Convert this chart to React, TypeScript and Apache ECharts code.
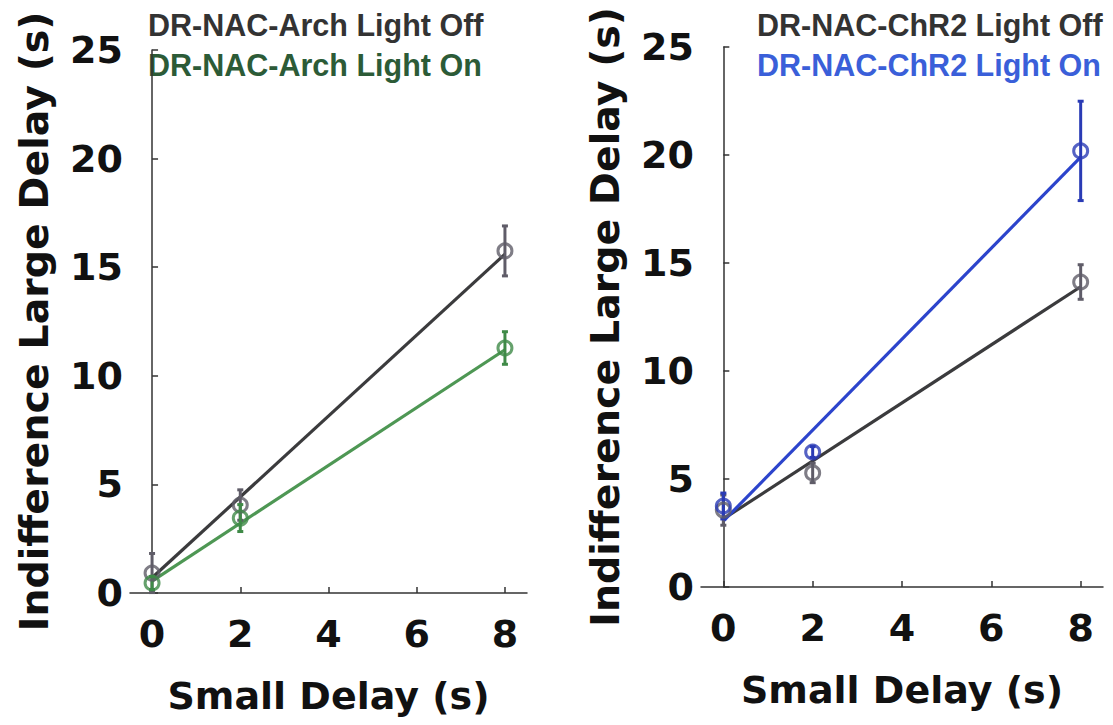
import React, { useEffect, useRef } from "react";
import * as echarts from "echarts";

// ---- Data ----
const smallDelays = [0, 2, 8];
const xTicks = [0, 2, 4, 6, 8];

// Left panel: DR-NAC-Arch
const archOffMean = [0.92, 4.05, 15.75];
const archOffErr = [0.9, 0.7, 1.15];
const archOnMean = [0.46, 3.45, 11.28];
const archOnErr = [0.3, 0.62, 0.75];

// Right panel: DR-NAC-ChR2
const chr2OffMean = [3.56, 5.28, 14.12];
const chr2OffErr = [0.7, 0.45, 0.8];
const chr2OnMean = [3.75, 6.25, 20.19];
const chr2OnErr = [0.6, 0.25, 2.3];

// Fitted lines (end points)
const fitX = [0, 8];
const archOffFit = [0.7, 15.6];
const archOnFit = [0.55, 11.2];
const chr2OffFit = [3.15, 13.9];
const chr2OnFit = [3.05, 19.9];

const legendLeft = ["DR-NAC-Arch Light Off", "DR-NAC-Arch Light On"];
const legendRight = ["DR-NAC-ChR2 Light Off", "DR-NAC-ChR2 Light On"];

const xName = "Small Delay (s)";
const yName = "Indifference Large Delay (s)";

const C = {
  greyMarker: "#5f5c68",
  greyLine: "#3b3b3d",
  greenMarker: "#3f8a47",
  greenLine: "#4e9754",
  blueMarker: "#2a3bb5",
  blueLine: "#2c44cc",
  legendOff: "#333333",
  legendGreen: "#2c5b37",
  legendBlue: "#3a5fd9",
  axis: "#333333",
  text: "#111111",
};

const FONT = "DejaVu Sans";

function pts(xs: number[], ys: number[]) {
  return xs.map((x, i) => [x, ys[i]]);
}
function errs(xs: number[], m: number[], e: number[]) {
  return xs.map((x, i) => [x, m[i] - e[i], m[i] + e[i]]);
}

function errorSeries(data: number[][], color: string, axis: number) {
  return {
    type: "custom",
    xAxisIndex: axis,
    yAxisIndex: axis,
    data,
    encode: { x: 0, y: [1, 2] },
    z: 3,
    renderItem: (params: any, api: any) => {
      const x = api.value(0);
      const lo = api.coord([x, api.value(1)]);
      const hi = api.coord([x, api.value(2)]);
      const w = 3;
      const style = { stroke: color, lineWidth: 3 };
      return {
        type: "group",
        children: [
          { type: "line", shape: { x1: lo[0], y1: lo[1], x2: hi[0], y2: hi[1] }, style },
          { type: "line", shape: { x1: hi[0] - w, y1: hi[1], x2: hi[0] + w, y2: hi[1] }, style },
          { type: "line", shape: { x1: lo[0] - w, y1: lo[1], x2: lo[0] + w, y2: lo[1] }, style },
        ],
      };
    },
  };
}

function markerSeries(data: number[][], color: string, axis: number) {
  return {
    type: "scatter",
    xAxisIndex: axis,
    yAxisIndex: axis,
    data,
    symbol: "circle",
    symbolSize: 14,
    z: 4,
    itemStyle: { color: "rgba(0,0,0,0)", borderColor: color, borderWidth: 3 },
  };
}

function lineSeries(data: number[][], color: string, axis: number) {
  return {
    type: "line",
    xAxisIndex: axis,
    yAxisIndex: axis,
    data,
    symbol: "none",
    z: 2,
    lineStyle: { color, width: 3.2 },
  };
}

function xAxisCfg(grid: number) {
  return {
    type: "value",
    gridIndex: grid,
    min: -0.5,
    max: 8.5,
    name: xName,
    nameLocation: "middle",
    nameGap: 84,
    nameTextStyle: { fontFamily: FONT, fontWeight: "bold", fontSize: 38, color: C.text },
    axisLine: { show: true, lineStyle: { color: C.axis, width: 1.5 } },
    axisTick: { show: true, inside: true, length: 6, customValues: xTicks, lineStyle: { color: C.axis, width: 1.5 } },
    axisLabel: { customValues: xTicks, margin: 22, fontFamily: FONT, fontWeight: "bold", fontSize: 38, color: C.text },
    splitLine: { show: false },
  };
}

function yAxisCfg(grid: number) {
  return {
    type: "value",
    gridIndex: grid,
    min: 0,
    max: 25,
    interval: 5,
    name: yName,
    nameLocation: "middle",
    nameGap: 76,
    nameTextStyle: { fontFamily: FONT, fontWeight: "bold", fontSize: 39.5, color: C.text },
    axisLine: { show: true, lineStyle: { color: C.axis, width: 1.5 } },
    axisTick: { show: true, inside: true, length: 6, lineStyle: { color: C.axis, width: 1.5 } },
    axisLabel: { margin: 7, fontFamily: FONT, fontWeight: "bold", fontSize: 38, color: C.text },
    splitLine: { show: false },
  };
}

function legendText(text: string, x: number, y: number, color: string) {
  return {
    type: "text",
    left: x,
    top: y,
    style: {
      text,
      fill: color,
      fontFamily: "Liberation Sans",
      fontWeight: "bold",
      fontSize: 30.5,
    },
  };
}

export default function App() {
  const ref = useRef<HTMLDivElement>(null);
  useEffect(() => {
    if (!ref.current) return;
    const chart = echarts.init(ref.current, undefined, { renderer: "svg" });
    chart.setOption({
      animation: false,
      backgroundColor: "#ffffff",
      grid: [
        { left: 130, top: 50, width: 397, height: 543 },
        { left: 701, top: 47, width: 402, height: 540 },
      ],
      xAxis: [xAxisCfg(0), xAxisCfg(1)],
      yAxis: [yAxisCfg(0), yAxisCfg(1)],
      series: [
        lineSeries(pts(fitX, archOnFit), C.greenLine, 0),
        lineSeries(pts(fitX, archOffFit), C.greyLine, 0),
        errorSeries(errs(smallDelays, archOffMean, archOffErr), C.greyMarker, 0),
        markerSeries(pts(smallDelays, archOffMean), C.greyMarker, 0),
        errorSeries(errs(smallDelays, archOnMean, archOnErr), C.greenMarker, 0),
        markerSeries(pts(smallDelays, archOnMean), C.greenMarker, 0),

        lineSeries(pts(fitX, chr2OffFit), C.greyLine, 1),
        lineSeries(pts(fitX, chr2OnFit), C.blueLine, 1),
        errorSeries(errs(smallDelays, chr2OffMean, chr2OffErr), C.greyMarker, 1),
        markerSeries(pts(smallDelays, chr2OffMean), C.greyMarker, 1),
        errorSeries(errs(smallDelays, chr2OnMean, chr2OnErr), C.blueMarker, 1),
        markerSeries(pts(smallDelays, chr2OnMean), C.blueMarker, 1),
      ],
      graphic: [
        legendText(legendLeft[0], 148, 9, C.legendOff),
        legendText(legendLeft[1], 148, 49, C.legendGreen),
        legendText(legendRight[0], 757, 9, C.legendOff),
        legendText(legendRight[1], 757, 49, C.legendBlue),
      ],
    });
    return () => chart.dispose();
  }, []);
  return (
    <div
      ref={ref}
      style={{ position: "fixed", left: 0, top: 0, width: 1113, height: 725, background: "#fff" }}
    />
  );
}
